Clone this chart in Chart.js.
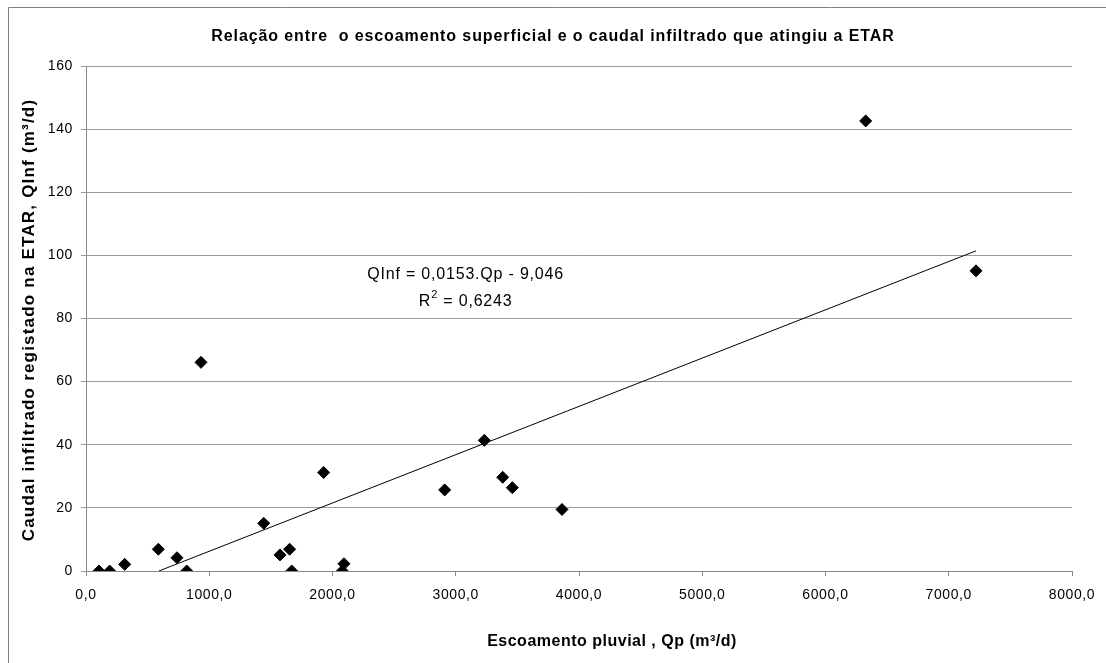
<!DOCTYPE html>
<html>
<head>
<meta charset="utf-8">
<script src="https://cdn.jsdelivr.net/npm/chart.js@4"></script>
<style>
  html, body { margin: 0; padding: 0; background: #fff; }
  #wrap { width: 1106px; height: 663px; }
</style>
</head>
<body>
<div id="wrap"><canvas id="myChart" width="1106" height="663"></canvas></div>
<script>
// escoamento pluvial Qp (m3/d)
var qpValues = [105, 192, 314, 587, 738, 817, 933, 1442, 1574, 1652, 1669, 1928, 2080, 2093,
  2910, 3232, 3381, 3459, 3862, 6326, 7221];
// caudal infiltrado QInf (m3/d)
var qinfValues = [0, 0, 2.1, 6.9, 4.2, 0, 66.1, 15.1, 5.1, 6.9, 0, 31.2, 0, 2.3,
  25.7, 41.4, 29.7, 26.4, 19.5, 142.6, 95.1];

var slope = 0.0153;
var intercept = -9.046;
var rSquared = "0,6243";

var xTicks = [0, 1000, 2000, 3000, 4000, 5000, 6000, 7000, 8000];
var yTicks = [0, 20, 40, 60, 80, 100, 120, 140, 160];

var titleText = "Relação entre  o escoamento superficial e o caudal infiltrado que atingiu a ETAR";
var xTitle = "Escoamento pluvial , Qp (m³/d)";
var yTitle = "Caudal infiltrado registado na ETAR, QInf (m³/d)";

var points = qpValues.map(function (x, i) { return { x: x, y: qinfValues[i] }; });

// trend line from the regression, from y = 0 up to the largest Qp
var xMax = Math.max.apply(null, qpValues);
var xStart = -intercept / slope;
var trend = [
  { x: xStart, y: slope * xStart + intercept },
  { x: xMax, y: slope * xMax + intercept }
];

var font = "'Liberation Sans', Arial, sans-serif";

var extras = {
  id: "extras",
  beforeDraw: function (chart) {
    chart.ctx.letterSpacing = "0.6px";
  },
  afterDraw: function (chart) {
    var ctx = chart.ctx;
    ctx.save();
    // outer frame (top and left only visible)
    ctx.strokeStyle = "#808080";
    ctx.lineWidth = 1;
    ctx.beginPath();
    ctx.moveTo(8.5, 663);
    ctx.lineTo(8.5, 7.5);
    ctx.lineTo(1106, 7.5);
    ctx.stroke();

    ctx.fillStyle = "#000";
    ctx.textBaseline = "middle";
    ctx.textAlign = "center";

    ctx.letterSpacing = "0.9px";
    ctx.font = "bold 16px " + font;
    ctx.fillText(titleText, 553, 37);

    ctx.letterSpacing = "0.5px";
    ctx.font = "bold 16px " + font;
    ctx.fillText(xTitle, 612, 642);

    ctx.save();
    ctx.translate(29, 320);
    ctx.rotate(-Math.PI / 2);
    ctx.letterSpacing = "1.2px";
    ctx.font = "bold 17px " + font;
    ctx.fillText(yTitle, 0, 0);
    ctx.restore();

    // equation label
    var cx = chart.scales.x.getPixelForValue(3080);
    var cy = chart.scales.y.getPixelForValue(94);
    ctx.letterSpacing = "0.8px";
    ctx.font = "16px " + font;
    ctx.fillText("QInf = 0,0153.Qp - 9,046", cx, cy);
    var t1 = "R", t2 = " = " + rSquared;
    ctx.textAlign = "left";
    var w1 = ctx.measureText(t1).width;
    var w2 = ctx.measureText(t2).width;
    ctx.font = "11px " + font;
    var ws = ctx.measureText("2").width;
    var left = cx - (w1 + ws + w2) / 2;
    var y2 = cy + 27;
    ctx.font = "16px " + font;
    ctx.fillText(t1, left, y2);
    ctx.fillText(t2, left + w1 + ws, y2);
    ctx.font = "11px " + font;
    ctx.fillText("2", left + w1, y2 - 6);
    ctx.restore();
  }
};

new Chart(document.getElementById("myChart"), {
  type: "scatter",
  data: {
    datasets: [
      {
        label: "dados",
        data: points,
        pointStyle: "rectRot",
        pointRadius: 6,
        pointBackgroundColor: "#000",
        pointBorderColor: "#000",
        pointBorderWidth: 1,
        showLine: false,
        order: 1
      },
      {
        label: "tendencia",
        type: "line",
        data: trend,
        borderColor: "#000",
        borderWidth: 1,
        pointRadius: 0,
        fill: false,
        order: 2
      }
    ]
  },
  options: {
    responsive: false,
    animation: false,
    devicePixelRatio: 1,
    layout: { padding: { left: 14, top: 66, right: 34, bottom: 12 } },
    plugins: {
      legend: { display: false },
      tooltip: { enabled: false },
      title: { display: false }
    },
    scales: {
      x: {
        type: "linear",
        min: 0,
        max: 8000,
        afterBuildTicks: function (scale) {
          scale.ticks = xTicks.map(function (v) { return { value: v }; });
        },
        afterFit: function (scale) { scale.height = 663 - 571 - 12; },
        ticks: {
          color: "#000",
          font: { family: font, size: 14 },
          padding: 11,
          maxRotation: 0,
          callback: function (v) { return v.toFixed(1).replace(".", ","); }
        },
        grid: { drawOnChartArea: false, drawTicks: true, tickLength: 5, color: "#888" },
        border: { color: "#888", width: 1 }
      },
      y: {
        type: "linear",
        min: 0,
        max: 160,
        afterBuildTicks: function (scale) {
          scale.ticks = yTicks.map(function (v) { return { value: v }; });
        },
        afterFit: function (scale) { scale.width = 86 - 14; },
        ticks: {
          color: "#000",
          font: { family: font, size: 14 },
          padding: 8
        },
        grid: { color: "#999", lineWidth: 1, drawTicks: true, tickLength: 5 },
        border: { color: "#888", width: 1 }
      }
    }
  },
  plugins: [extras]
});
</script>
</body>
</html>
